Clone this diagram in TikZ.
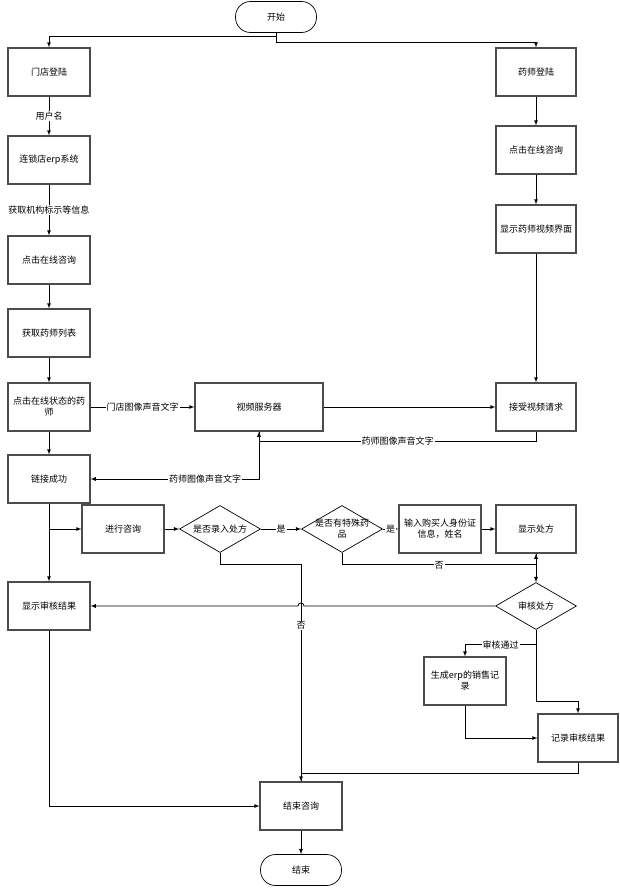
\documentclass[tikz,border=0pt]{standalone}
\usepackage{fontspec}
\newfontfamily\cjk{Noto Sans CJK SC}
\usetikzlibrary{arrows,shapes.geometric}
\definecolor{bGray}{gray}{0.3}
\tikzset{
    txt/.style={font=\cjk\fontsize{9}{11}\selectfont, align=center},
    proc/.style={txt, rectangle, draw=bGray, line width=1.1pt, minimum width=82pt, minimum height=48pt, inner sep=2pt},
    term/.style={txt, rectangle, rounded corners=15pt, draw, line width=0.7pt, minimum width=81pt, minimum height=31pt},
    dec/.style={diamond, draw, line width=0.7pt, minimum width=81pt, minimum height=47pt, inner sep=0pt},
    flow/.style={-latex, line width=0.8pt},
    lbl/.style={txt, fill=white, inner sep=1pt}
}

\begin{document}
\begin{tikzpicture}[x=1pt,y=-1pt]
\useasboundingbox (0,0) rectangle (619,889);
\node[term] (start) at (276,17) {开始};
\node[proc] (a1) at (49,72) {门店登陆};
\node[proc] (a2) at (49,160) {连锁店erp系统};
\node[proc] (a3) at (49,260) {点击在线咨询};
\node[proc] (a4) at (49,333) {获取药师列表};
\node[proc] (a5) at (49,407) {点击在线状态的药\\师};
\node[proc] (a6) at (49,479) {链接成功};
\node[proc,minimum width=128pt] (srv) at (259,407) {视频服务器};
\node[proc,minimum width=80pt] (b1) at (536,72) {药师登陆};
\node[proc,minimum width=80pt] (b2) at (536,150) {点击在线咨询};
\node[proc,minimum width=80pt] (b3) at (536,229) {显示药师视频界面};
\node[proc,minimum width=80pt] (b4) at (536,407) {接受视频请求};
\node[proc] (c1) at (123,529) {进行咨询};
\node[dec,label={[txt]center:是否录入处方}] (d1) at (220,529) {};
\node[dec,label={[txt]center:是否有特殊药\\品}] (d2) at (342,529) {};
\node[proc] (c2) at (440,529) {输入购买人身份证\\信息，姓名};
\node[proc,minimum width=80pt] (c3) at (536,529) {显示处方};
\node[dec,label={[txt]center:审核处方}] (d3) at (536,606) {};
\node[proc] (r1) at (49,606) {显示审核结果};
\node[proc] (e1) at (465,681) {生成erp的销售记\\录};
\node[proc,minimum width=80pt] (e2) at (578,738) {记录审核结果};
\node[proc] (fin) at (301,806) {结束咨询};
\node[term] (stop) at (301,870) {结束};
\draw[flow] (start.south) -- ++(0,4) -| (a1.north);
\draw[flow] (start.south) -- ++(0,10) -| (b1.north);
\draw[flow] (a1) -- node[lbl]{用户名} (a2);
\draw[flow] (a2) -- node[lbl]{获取机构标示等信息} (a3);
\draw[flow] (a3) -- (a4);
\draw[flow] (a4) -- (a5);
\draw[flow] (a5) -- node[lbl]{门店图像声音文字} (srv);
\draw[flow] (srv) -- (b4);
\draw[flow] (b1) -- (b2);
\draw[flow] (b2) -- (b3);
\draw[flow] (b3) -- (b4);
\draw[flow] (b4.south) -- ++(0,10) -| node[lbl,pos=0.25]{药师图像声音文字} (srv.south);
\draw[flow] (srv.south) |- node[lbl,pos=0.66]{药师图像声音文字} (a6.east);
\draw[flow] (a5) -- (a6);
\draw[flow] (a6) -- (r1);
\draw[flow] (a6.south |- c1.west) -- (c1.west);
\draw[flow] (c1) -- (d1);
\draw[flow] (d1) -- node[lbl]{是} (d2);
\draw[flow] (d2) -- node[lbl]{是} (c2);
\draw[flow] (c2) -- (c3);
\draw[flow] (d2.south) -- ++(0,12) -| node[lbl,pos=0.25]{否} (c3.south);
\draw[flow] (c3) -- (d3);
\draw[flow] (d1.south) -- ++(0,12) -| node[lbl,pos=0.64]{否} (fin.north);
\coordinate (hop) at (fin.north |- d3.west);
\draw[flow] (d3.west) -- ([xshift=3pt]hop) .. controls ([xshift=3pt,yshift=4pt]hop) and ([xshift=-3pt,yshift=4pt]hop) .. ([xshift=-3pt]hop) -- (r1.east);
\draw[flow] (r1.south) |- (fin.west);
\draw[flow] (d3.south) -- ++(0,15) -| node[lbl,pos=0.25]{审核通过} (e1.north);
\draw[flow] (d3.south) -- ++(0,72) -| (e2.north);
\draw[flow] (e1.south) |- (e2.west);
\draw (e2.south) -- ++(0,11) -| (fin.north);
\draw[flow] (fin) -- (stop);
\end{tikzpicture}
\end{document}
